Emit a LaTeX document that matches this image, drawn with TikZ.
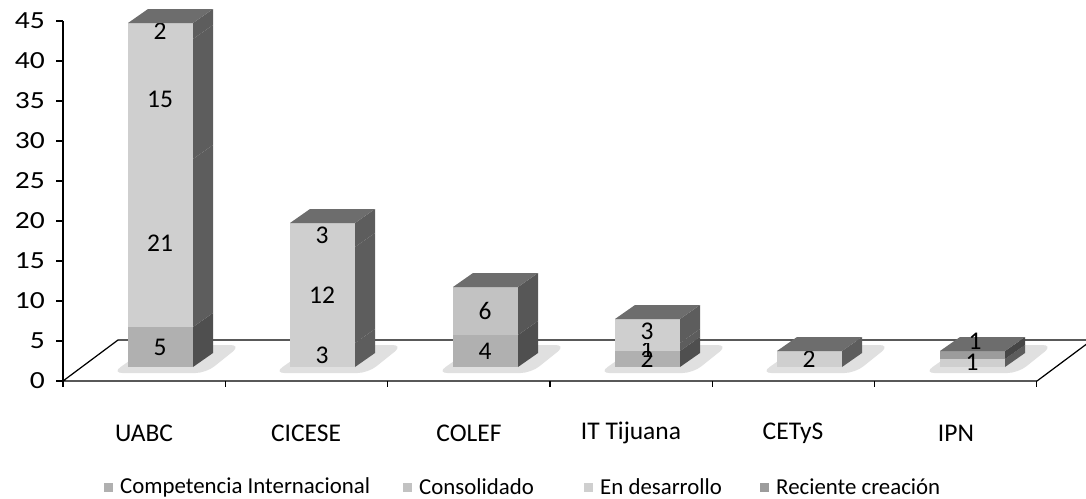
\documentclass[tikz,border=0pt]{standalone}
\usepackage{fontspec}
\setmainfont{Carlito}
\usetikzlibrary{positioning}
\colorlet{ci}{gray!62}     % Competencia Internacional
\colorlet{cons}{gray!48}   % Consolidado
\colorlet{endes}{gray!38}  % En desarrollo
\colorlet{rc}{gray!78}     % Reciente creacion
\tikzset{
x=0.02cm, y=-0.02cm, % one unit is one pixel of the chart, y grows downwards
eje/.style={line width=0.7pt, black}, % axis, ticks and floor edges
valor/.style={font=\fontsize{14.5}{16}\selectfont, inner sep=0pt}, % numbers on the bars
etiqueta/.style={font=\fontsize{14.5}{16}\selectfont, inner sep=1pt}, % category texts
leyenda/.style={font=\fontsize{13}{15}\selectfont, inner sep=1pt}, % legend texts
escala/.style={font=\fontsize{14}{16}\selectfont, inner sep=0pt}, % value axis numbers
sombra/.style={fill=gray!24, rounded corners=6pt}, % shadow of a bar on the floor
muestra/.style={minimum size=9*0.02cm, inner sep=0pt}, % legend squares
}
% one piece of a stacked bar: name, centre, from, to, colour, text, shift of the text
\newcommand{\segmento}[7][0]{%
  \fill[#6] ({#3-16},{367-8*#4}) rectangle ({#3+49},{367-8*#5});
  \fill[#6!45!black] ({#3+49},{367-8*#4}) -- ++(20,-14) -- ({#3+69},{353-8*#5}) -- ({#3+49},{367-8*#5}) -- cycle;
  \node[valor] (#2) at ({#3+16},{367-4*(#4+#5)+#1}) {#7};
}
% top face of a bar: centre, height, colour
\newcommand{\tapa}[3]{%
  \fill[#3!70!black] ({#1-16},{367-8*#2}) -- ++(20,-14) -- ++(65,0) -- ++(-20,14) -- cycle;
}

\begin{document}
\begin{tikzpicture}
    \useasboundingbox (0,0) rectangle (1086,498);
    \begin{scope}
    \clip (0,0) rectangle (1086,498);
    % floor
    \draw[eje, fill=white] (63,381) -- (1037,381) -- (1092,340) -- (118,340) -- cycle;
    \end{scope}

    % shadows
    \foreach \c in {144,306,469,631,793,956}
        \fill[sombra] ({\c-32},373) -- ({\c+62},373) -- ({\c+97},345) -- ({\c+8},345) -- cycle;

    % UABC
    \segmento{uabc-ci}{144}{0}{5}{ci}{5}
    \segmento{uabc-cons}{144}{5}{26}{endes}{21}
    \segmento{uabc-endes}{144}{26}{41}{endes}{15}
    \segmento{uabc-rc}{144}{41}{43}{endes}{2}
    \tapa{144}{43}{rc}
    % CICESE
    \segmento{cicese-cons}{306}{0}{3}{endes}{3}
    \segmento{cicese-endes}{306}{3}{15}{endes}{12}
    \segmento{cicese-rc}{306}{15}{18}{endes}{3}
    \tapa{306}{18}{rc}
    % COLEF
    \segmento{colef-ci}{469}{0}{4}{ci}{4}
    \segmento{colef-cons}{469}{4}{10}{cons}{6}
    \tapa{469}{10}{rc}
    % IT Tijuana
    \segmento{itt-ci}{631}{0}{2}{ci}{2}
    \segmento[2]{itt-cons}{631}{2}{3}{endes}{1}
    \segmento{itt-endes}{631}{3}{6}{endes}{3}
    \tapa{631}{6}{rc}
    % CETyS
    \segmento{cetys-endes}{793}{0}{2}{endes}{2}
    \tapa{793}{2}{rc}
    % IPN
    \segmento{ipn-endes}{956}{0}{1}{endes}{}
    \segmento{ipn-rc}{956}{1}{2}{rc}{}
    \tapa{956}{2}{rc}
    \node[valor] (ipn-1) at (972,362) {1};
    \node[valor] (ipn-2) at (975,341) {1};

    % value axis
    \draw[eje] (63,21) -- (63,381);
    \foreach \v in {0,5,...,45}
        \draw[eje] (63,{381-8*\v}) -- (56,{381-8*\v})
            node[escala, left=6pt] (y\v) {\scalebox{1.2}[1]{\v}};

    % category axis
    \foreach \k in {0,...,6}
        \draw[eje] ({63+162.3*\k},381) -- ({63+162.3*\k},387);
    \foreach \n/\c/\t in {uabc/144/UABC, cicese/306/CICESE, colef/469/COLEF,
                         itt/631/IT Tijuana, cetys/793/CETyS, ipn/956/IPN}
        \node[etiqueta] (x-\n) at (\c,433) {\t};

    % legend
    \node[muestra, fill=ci] (m-ci) at (108,487) {};
    \node[leyenda, right=3pt of m-ci] (l-ci) {Competencia Internacional};
    \node[muestra, fill=cons] (m-cons) at (407,487) {};
    \node[leyenda, right=3pt of m-cons] (l-cons) {Consolidado};
    \node[muestra, fill=endes] (m-endes) at (588,487) {};
    \node[leyenda, right=3pt of m-endes] (l-endes) {En desarrollo};
    \node[muestra, fill=rc] (m-rc) at (764,487) {};
    \node[leyenda, right=3pt of m-rc] (l-rc) {Reciente creación};
\end{tikzpicture}
\end{document}
